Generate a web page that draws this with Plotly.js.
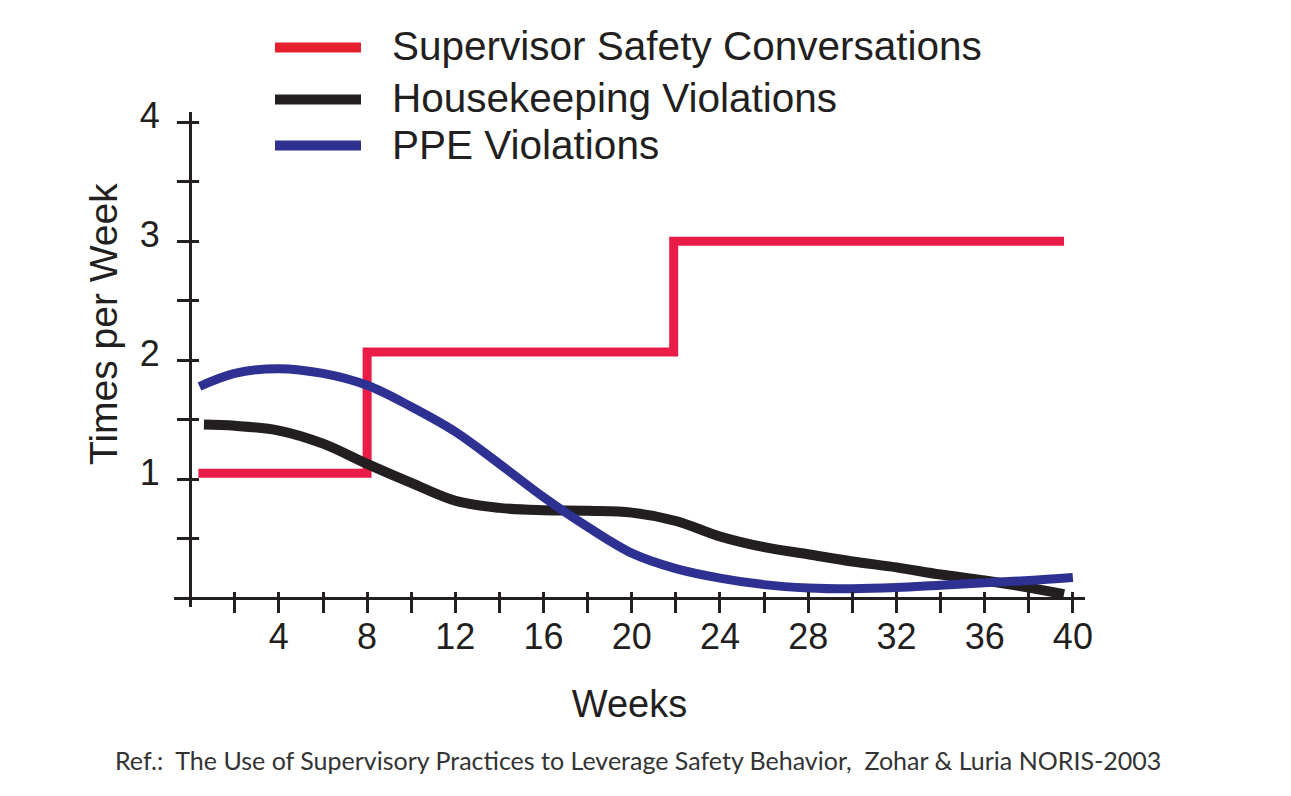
<!DOCTYPE html>
<html>
<head>
<meta charset="utf-8">
<script src="https://cdn.plot.ly/plotly-3.0.1.min.js"></script>
<style>html,body{margin:0;padding:0;background:#fff;}#chart{width:1291px;height:796px;}</style>
</head>
<body>
<div id="chart"></div>
<script>
// ---- Data ----
const seriesNames = ["Supervisor Safety Conversations", "Housekeeping Violations", "PPE Violations"];

const weeksSafety = [0.35, 8, 21.9, 39.6];
const safetyConversations = [1.05, 2.07, 3.0, 3.0];

const weeksHousekeeping = [0.6, 2, 4, 6, 8, 10, 12, 14, 16, 18, 20, 22, 24, 26, 28, 30, 32, 34, 36, 38, 39.6];
const housekeepingViolations = [1.46, 1.45, 1.41, 1.30, 1.13, 0.97, 0.82, 0.76, 0.74, 0.735, 0.72, 0.65, 0.52, 0.43, 0.37, 0.31, 0.26, 0.20, 0.15, 0.09, 0.035];

const weeksPPE = [0.4, 2, 4, 6, 8, 10, 12, 14, 16, 18, 20, 22, 24, 26, 28, 30, 32, 34, 36, 38, 40];
const ppeViolations = [1.78, 1.89, 1.93, 1.89, 1.79, 1.61, 1.40, 1.13, 0.85, 0.60, 0.38, 0.25, 0.17, 0.115, 0.087, 0.08, 0.09, 0.11, 0.13, 0.15, 0.175];

const xTickVals = [2, 4, 6, 8, 10, 12, 14, 16, 18, 20, 22, 24, 26, 28, 30, 32, 34, 36, 38, 40];
const xTickText = ["", "4", "", "8", "", "12", "", "16", "", "20", "", "24", "", "28", "", "32", "", "36", "", "40"];
const yTickVals = [0.5, 1, 1.5, 2, 2.5, 3, 3.5, 4];
const yTickText = ["", "1", "", "2", "", "3", "", "4"];

const xTitle = "Weeks";
const yTitle = "Times per Week";
const refNote = "Ref.:  The Use of Supervisory Practices to Leverage Safety Behavior,  Zohar & Luria NORIS-2003";

// ---- Styling ----
const INK = "#231F20";
const lineColors = ["#E91C47", INK, "#2E3192"];
const legendColors = ["#E3202C", INK, "#2E3192"];
const FONT = "Liberation Sans, Arial, Helvetica, sans-serif";

// plot area in pixels
const L = 174, R = 1085, T = 112, B = 607, W = 1291, H = 796;
const xRange = [-0.756, 40.55];
const yRange = [-0.073, 4.087];
const px = x => (x - L) / (R - L);
const py = y => (B - y) / (B - T);
const xPos = (0 - xRange[0]) / (xRange[1] - xRange[0]);
const yPos = (0 - yRange[0]) / (yRange[1] - yRange[0]);

const traces = [
  {x: weeksSafety, y: safetyConversations, name: seriesNames[0], mode: "lines",
   line: {color: lineColors[0], width: 9, shape: "hv"}, showlegend: false},
  {x: weeksHousekeeping, y: housekeepingViolations, name: seriesNames[1], mode: "lines",
   line: {color: lineColors[1], width: 10, shape: "spline", smoothing: 1}, showlegend: false},
  {x: weeksPPE, y: ppeViolations, name: seriesNames[2], mode: "lines",
   line: {color: lineColors[2], width: 9, shape: "spline", smoothing: 1}, showlegend: false},
  {x: [], y: [], xaxis: "x2", yaxis: "y2", showlegend: false, hoverinfo: "skip"}
];

const legendY = [47.5, 99.5, 145.5];
const shapes = [];
const annotations = [];
seriesNames.forEach((n, i) => {
  shapes.push({type: "line", xref: "paper", yref: "paper",
    x0: px(275), x1: px(361), y0: py(legendY[i]), y1: py(legendY[i]),
    line: {color: legendColors[i], width: 10}});
  annotations.push({xref: "paper", yref: "paper", x: px(390), y: py(legendY[i] - 1),
    xanchor: "left", yanchor: "middle", showarrow: false, text: n,
    font: {family: FONT, size: 40.5, color: INK}});
});
annotations.push({xref: "paper", yref: "paper", x: px(103), y: py(324),
  xanchor: "center", yanchor: "middle", showarrow: false, text: yTitle, textangle: -90,
  font: {family: FONT, size: 39, color: INK}});
annotations.push({xref: "paper", yref: "paper", x: px(637.5), y: py(760),
  xanchor: "center", yanchor: "middle", showarrow: false, text: refNote,
  font: {family: "Lato, Open Sans, sans-serif", size: 25, color: "#333333"}});

const baseX = {range: xRange, autorange: false, showgrid: false, showline: false,
  zeroline: false, tickmode: "array", tickvals: xTickVals, tickwidth: 3, tickcolor: INK,
  anchor: "free", position: yPos, fixedrange: true};
const baseY = {range: yRange, autorange: false, showgrid: false, showline: false,
  zeroline: false, tickmode: "array", tickvals: yTickVals, tickwidth: 3, tickcolor: INK,
  anchor: "free", position: xPos, fixedrange: true};

const layout = {
  width: W, height: H,
  margin: {l: L, r: W - R, t: T, b: H - B, pad: 0},
  paper_bgcolor: "#ffffff", plot_bgcolor: "#ffffff",
  showlegend: false,
  font: {family: FONT, color: INK},
  xaxis: Object.assign({}, baseX, {
    zeroline: true, zerolinecolor: INK, zerolinewidth: 3,
    ticks: "inside", ticklen: 6, ticktext: xTickText,
    tickfont: {family: FONT, size: 36, color: INK}, ticklabelstandoff: 14,
    title: {text: xTitle, font: {family: FONT, size: 38, color: INK}, standoff: 34}
  }),
  yaxis: Object.assign({}, baseY, {
    zeroline: true, zerolinecolor: INK, zerolinewidth: 3,
    ticks: "inside", ticklen: 7, ticktext: yTickText,
    tickfont: {family: FONT, size: 36, color: INK}, ticklabelstandoff: 31, ticklabelshift: -7
  }),
  xaxis2: Object.assign({}, baseX, {overlaying: "x", ticks: "outside", ticklen: 14, showticklabels: false}),
  yaxis2: Object.assign({}, baseY, {overlaying: "y", ticks: "outside", ticklen: 14, showticklabels: false}),
  shapes: shapes,
  annotations: annotations
};

Plotly.newPlot("chart", traces, layout, {displayModeBar: false, staticPlot: true});
</script>
</body>
</html>
